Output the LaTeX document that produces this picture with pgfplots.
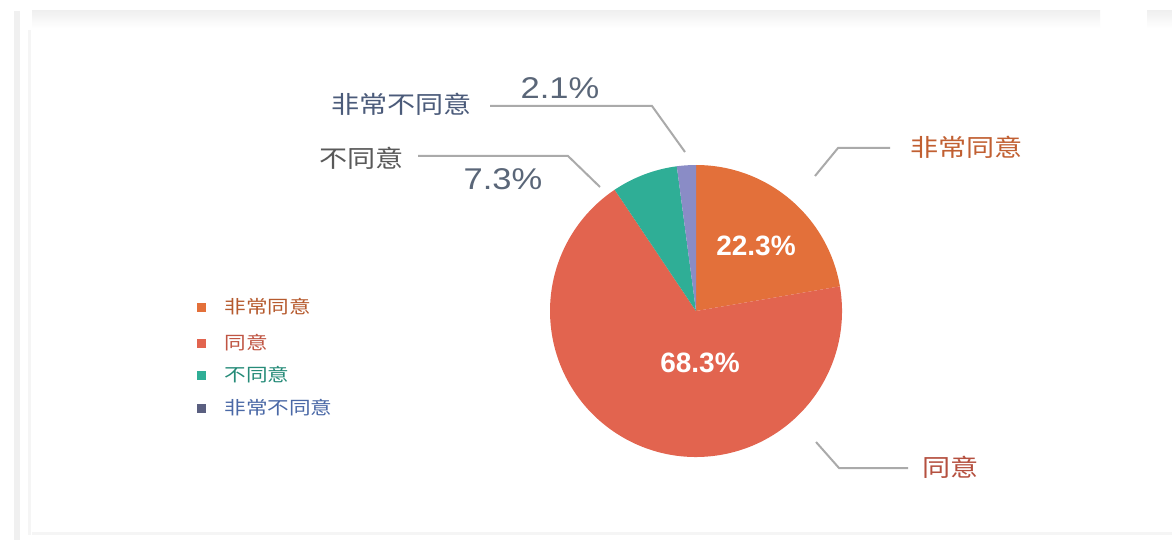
\documentclass[border=0pt]{standalone}
\usepackage{pgfplots}
\pgfplotsset{compat=1.18}
\usepackage{pgfplotstable}
\usepackage{fontspec}
\setmainfont{Liberation Sans}
\newfontfamily\cjk{Noto Sans CJK SC}

\definecolor{cA}{HTML}{E3703A}
\definecolor{cB}{HTML}{E2644F}
\definecolor{cC}{HTML}{2FAE96}
\definecolor{cD}{HTML}{8A8CC6}
\definecolor{leader}{HTML}{AAAAAA}
\definecolor{pct}{HTML}{5A6678}
\definecolor{lblD}{HTML}{4B5B7A}
\definecolor{legD}{HTML}{5A5F80}
\definecolor{legDtext}{HTML}{4A68A6}

% share of each answer (%)
\pgfplotstableread{
key value
A 22.3
B 68.3
C 7.3
D 2.1
}\piedata

\pgfplotstablegetelem{0}{value}\of\piedata \let\vA\pgfplotsretval
\pgfplotstablegetelem{1}{value}\of\piedata \let\vB\pgfplotsretval
\pgfplotstablegetelem{2}{value}\of\piedata \let\vC\pgfplotsretval
\pgfplotstablegetelem{3}{value}\of\piedata \let\vD\pgfplotsretval
\pgfmathsetmacro\aA{90-3.6*\vA}
\pgfmathsetmacro\aB{\aA-3.6*\vB}
\pgfmathsetmacro\aC{\aB-3.6*\vC}
\pgfmathsetmacro\aD{\aC-3.6*\vD}

\begin{document}
\begin{tikzpicture}
\begin{axis}[
  scale only axis, width=586pt, height=272.5pt,
  xmin=0, xmax=1172, ymin=0, ymax=545, y dir=reverse,
  hide axis, clip=false]
% background and frame
\fill[white] (axis cs:0,0) rectangle (axis cs:1172,545);
\shade[top color=black!6, bottom color=white] (axis cs:32,11) rectangle (axis cs:1100,28);
\shade[top color=black!6, bottom color=white] (axis cs:1147,11) rectangle (axis cs:1172,28);
\fill[black!6] (axis cs:14,11) rectangle (axis cs:20,540);
\fill[black!4] (axis cs:28,30) rectangle (axis cs:31,535);
\fill[black!4] (axis cs:32,532) rectangle (axis cs:1172,535);

% pie slices
\fill[cA] (axis cs:696,311) -- ++(90:73pt) arc[start angle=90, end angle=\aA, radius=73pt] -- cycle;
\fill[cB] (axis cs:696,311) -- ++(\aA:73pt) arc[start angle=\aA, end angle=\aB, radius=73pt] -- cycle;
\fill[cC] (axis cs:696,311) -- ++(\aB:73pt) arc[start angle=\aB, end angle=\aC, radius=73pt] -- cycle;
\fill[cD] (axis cs:696,311) -- ++(\aC:73pt) arc[start angle=\aC, end angle=\aD, radius=73pt] -- cycle;

% inside labels
\node[text=white, font=\bfseries\fontsize{14}{16}\selectfont] at (axis cs:756,246) {\vA\%};
\node[text=white, font=\bfseries\fontsize{14}{16}\selectfont] at (axis cs:700,363) {\vB\%};

% leader lines
\draw[leader, line width=1pt] (axis cs:815,176) -- (axis cs:838,148) -- (axis cs:890,148);
\draw[leader, line width=1pt] (axis cs:816,442) -- (axis cs:839,468) -- (axis cs:908,468);
\draw[leader, line width=1pt] (axis cs:600,187) -- (axis cs:568,156) -- (axis cs:418,156);
\draw[leader, line width=1pt] (axis cs:685,152) -- (axis cs:652,106) -- (axis cs:490,106);

% outside labels
\node[anchor=west, xscale=1.17, text=cA!85!black, font=\cjk\fontsize{12}{14}\selectfont] at (axis cs:902,147) {非常同意};
\node[anchor=west, xscale=1.17, text=cB!80!black, font=\cjk\fontsize{12}{14}\selectfont] at (axis cs:914,467) {同意};
\node[anchor=east, xscale=1.17, text=black!65, font=\cjk\fontsize{12}{14}\selectfont] at (axis cs:412,158) {不同意};
\node[anchor=east, xscale=1.17, text=lblD, font=\cjk\fontsize{12}{14}\selectfont] at (axis cs:480,104) {非常不同意};
\node[text=pct, xscale=1.15, font=\fontsize{15}{17}\selectfont] at (axis cs:560,88) {\vD\%};
\node[text=pct, xscale=1.15, font=\fontsize{15}{17}\selectfont] at (axis cs:503,179) {\vC\%};

% legend
\fill[cA] (axis cs:197,303) rectangle (axis cs:206,312);
\fill[cB] (axis cs:197,339) rectangle (axis cs:206,348);
\fill[cC] (axis cs:197,371) rectangle (axis cs:206,380);
\fill[legD] (axis cs:197,404) rectangle (axis cs:206,413);
\node[anchor=west, xscale=1.2, text=cA!80!black, font=\cjk\fontsize{9}{11}\selectfont] at (axis cs:216,307) {非常同意};
\node[anchor=west, xscale=1.2, text=cB!85!black, font=\cjk\fontsize{9}{11}\selectfont] at (axis cs:216,343) {同意};
\node[anchor=west, xscale=1.2, text=cC!80!black, font=\cjk\fontsize{9}{11}\selectfont] at (axis cs:216,375) {不同意};
\node[anchor=west, xscale=1.2, text=legDtext, font=\cjk\fontsize{9}{11}\selectfont] at (axis cs:216,408) {非常不同意};
\end{axis}
\end{tikzpicture}
\end{document}
